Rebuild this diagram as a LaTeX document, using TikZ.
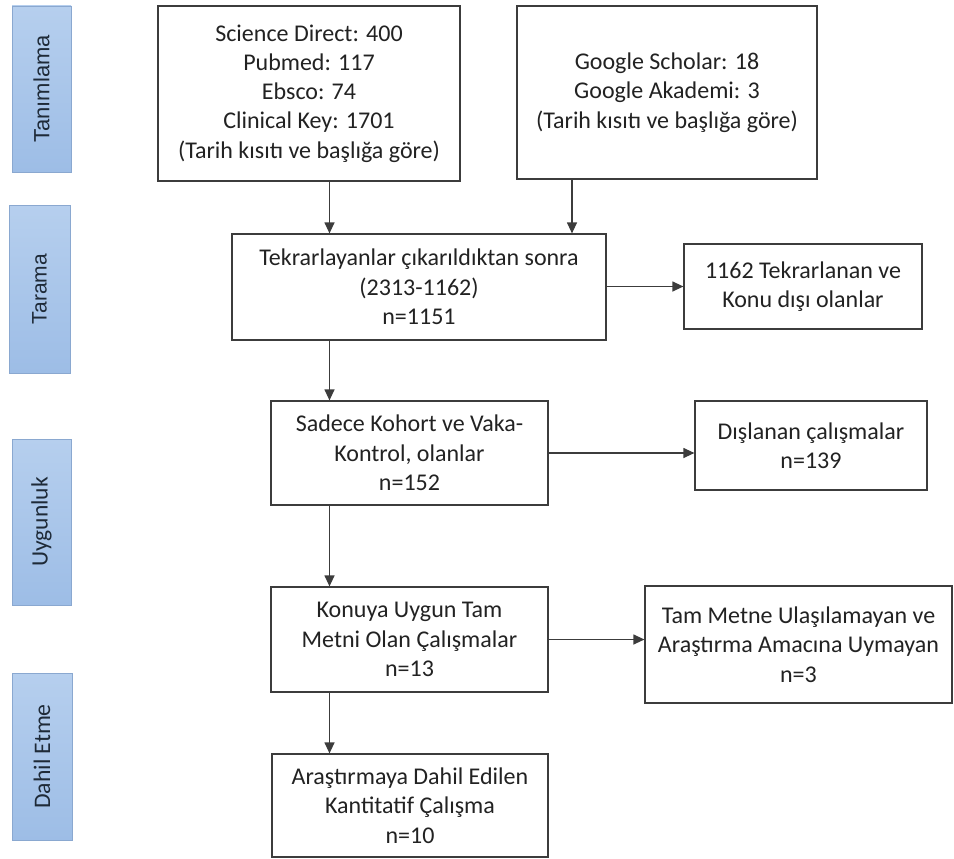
\documentclass[tikz,border=0pt]{standalone}
\usepackage{fontspec}
\setmainfont{Carlito}
\newfontfamily\arialf{Liberation Sans}
\usetikzlibrary{arrows.meta}
\definecolor{boxline}{HTML}{3C3C3C}
\definecolor{txt}{HTML}{222222}
\definecolor{sidel}{HTML}{B6CFEE}
\definecolor{sider}{HTML}{9DBDE6}
\definecolor{sideb}{HTML}{8AA8D0}
\definecolor{sidetxt}{HTML}{1E2A38}
\begin{document}
\begin{tikzpicture}[x=1pt,y=-1pt,
  flowbox/.style={draw=boxline, line width=1.2pt, fill=white, align=center, inner sep=0pt, text=txt, font=\fontsize{24}{29.3}\selectfont},
  sidebox/.style={draw=sideb, line width=0.8pt, top color=sidel, bottom color=sider, inner sep=0pt, text=sidetxt, rotate=90},
  arr/.style={draw=boxline, line width=1.2pt, -{Triangle[length=11pt,width=10pt]}}]
\useasboundingbox (0,0) rectangle (954,859);

% phase labels
\node[sidebox, minimum width=166pt, minimum height=59pt, font=\arialf\fontsize{22}{26}\selectfont] (tanim) at (41.5,89) {Tanımlama};
\node[sidebox, minimum width=168pt, minimum height=61pt, font=\arialf\fontsize{21}{25}\selectfont] (tara) at (39.5,289) {Tarama};
\node[sidebox, minimum width=166pt, minimum height=59pt, font=\fontsize{23.5}{28}\selectfont] (uyg) at (41.5,522) {Uygunluk};
\node[sidebox, minimum width=167pt, minimum height=60pt, font=\fontsize{23.7}{28}\selectfont] (dahilet) at (42,756.5) {Dahil Etme};

% flow boxes
\node[flowbox, minimum width=302pt, minimum height=175pt] (src1) at (309,93.5) {Science Direct: 400\\Pubmed: 117\\Ebsco: 74\\Clinical Key: 1701\\(Tarih kısıtı ve başlığa göre)};
\node[flowbox, minimum width=300pt, minimum height=173pt] (src2) at (667,92.5) {Google Scholar: 18\\Google Akademi: 3\\(Tarih kısıtı ve başlığa göre)};
\node[flowbox, minimum width=374pt, minimum height=106pt] (tekrar) at (419,287) {Tekrarlayanlar çıkarıldıktan sonra\\(2313-1162)\\n=1151};
\node[flowbox, minimum width=238pt, minimum height=85pt] (dup) at (803,286.5) {1162 Tekrarlanan ve\\Konu dışı olanlar};
\node[flowbox, minimum width=277pt, minimum height=104pt] (sadece) at (409.5,453) {Sadece Kohort ve Vaka-\\Kontrol, olanlar\\n=152};
\node[flowbox, minimum width=232pt, minimum height=89pt] (disl) at (811,445.5) {Dışlanan çalışmalar\\n=139};
\node[flowbox, minimum width=277pt, minimum height=105pt] (konu) at (409.5,639.5) {Konuya Uygun Tam\\Metni Olan Çalışmalar\\n=13};
\node[flowbox, minimum width=307pt, minimum height=117pt] (tam) at (798.5,644.5) {Tam Metne Ulaşılamayan ve\\Araştırma Amacına Uymayan\\n=3};
\node[flowbox, minimum width=276pt, minimum height=103pt] (dahil) at (410,805.5) {Araştırmaya Dahil Edilen\\Kantitatif Çalışma\\n=10};

% connector guides
\coordinate (spine) at (329.5,0);
\coordinate (col2) at (572,0);

% connectors
\draw[arr] (src1.south -| spine) -- (tekrar.north -| spine);
\draw[arr] (src2.south -| col2) -- (tekrar.north -| col2);
\draw[arr] (tekrar.east |- dup.west) -- (dup.west);
\draw[arr] (tekrar.south -| spine) -- (sadece.north -| spine);
\draw[arr] (sadece.east) -- (sadece.east -| disl.west);
\draw[arr] (sadece.south -| spine) -- (konu.north -| spine);
\draw[arr] (konu.east) -- (konu.east -| tam.west);
\draw[arr] (konu.south -| spine) -- (dahil.north -| spine);
\end{tikzpicture}
\end{document}
